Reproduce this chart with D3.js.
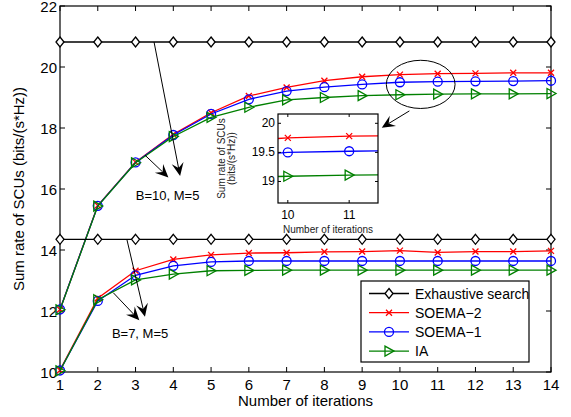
<!DOCTYPE html>
<html>
<head>
<meta charset="utf-8">
<script src="https://cdn.jsdelivr.net/npm/d3@7"></script>
<style>
  body { margin: 0; background: #fff; }
  svg { display: block; font-family: "Liberation Sans", Arial, Helvetica, sans-serif; }
</style>
</head>
<body>
<svg id="chart" width="571" height="417"></svg>
<script>
// data
const iterations = [1, 2, 3, 4, 5, 6, 7, 8, 9, 10, 11, 12, 13, 14];

// B=10, M=5
const exhaustive10 = [20.82, 20.82, 20.82, 20.82, 20.82, 20.82, 20.82, 20.82, 20.82, 20.82, 20.82, 20.82, 20.82, 20.82];
const soema2_10 = [12.05, 15.46, 16.88, 17.79, 18.50, 19.05, 19.33, 19.55, 19.68, 19.75, 19.78, 19.79, 19.81, 19.81];
const soema1_10 = [12.05, 15.45, 16.87, 17.77, 18.46, 18.94, 19.21, 19.34, 19.43, 19.50, 19.52, 19.53, 19.54, 19.55];
const ia_10 = [12.04, 15.44, 16.86, 17.72, 18.35, 18.68, 18.92, 19.00, 19.06, 19.09, 19.11, 19.12, 19.12, 19.13];

// B=7, M=5
const exhaustive7 = [14.35, 14.35, 14.35, 14.35, 14.35, 14.35, 14.35, 14.35, 14.35, 14.35, 14.35, 14.35, 14.35, 14.35];
const soema2_7 = [10.06, 12.42, 13.32, 13.69, 13.84, 13.90, 13.91, 13.94, 13.95, 13.98, 13.92, 13.95, 13.95, 13.97];
const soema1_7 = [10.05, 12.33, 13.17, 13.48, 13.61, 13.64, 13.64, 13.64, 13.64, 13.64, 13.64, 13.64, 13.64, 13.64];
const ia_7 = [10.04, 12.37, 13.02, 13.21, 13.32, 13.33, 13.34, 13.34, 13.34, 13.34, 13.34, 13.34, 13.34, 13.34];

const xTicks = iterations;
const yTicks = [10, 12, 14, 16, 18, 20, 22];
const insetXTicks = [10, 11];
const insetYTicks = [19, 19.5, 20];

const seriesStyle = [
    { name: 'Exhaustive search', color: '#000000', marker: 'diamond', b10: exhaustive10, b7: exhaustive7 },
    { name: 'SOEMA\u22122', color: '#ff0000', marker: 'x', b10: soema2_10, b7: soema2_7 },
    { name: 'SOEMA\u22121', color: '#0000ff', marker: 'circle', b10: soema1_10, b7: soema1_7 },
    { name: 'IA', color: '#008000', marker: 'triangle', b10: ia_10, b7: ia_7 }
];

const svg = d3.select('#chart');

const plot = { left: 60, right: 551, top: 6, bottom: 372 };
const x = d3.scaleLinear().domain([1, 14]).range([plot.left, plot.right]);
const y = d3.scaleLinear().domain([10, 22]).range([plot.bottom, plot.top]);

// draws one marker shape centred on (cx, cy)
function drawMarker(g, type, cx, cy, color, s = 1) {
    if (type === 'diamond') {
        g.append('path')
            .attr('d', `M${cx},${cy - 5 * s}L${cx + 4 * s},${cy}L${cx},${cy + 5 * s}L${cx - 4 * s},${cy}Z`)
            .attr('fill', '#fff').attr('stroke', color).attr('stroke-width', 1.3);
    } else if (type === 'x') {
        const r = 3 * s;
        g.append('path')
            .attr('d', `M${cx - r},${cy - r}L${cx + r},${cy + r}M${cx - r},${cy + r}L${cx + r},${cy - r}`)
            .attr('stroke', color).attr('stroke-width', 1.3);
    } else if (type === 'circle') {
        g.append('circle')
            .attr('cx', cx).attr('cy', cy).attr('r', 4.5 * s)
            .attr('fill', 'none').attr('stroke', color).attr('stroke-width', 1.3);
    } else if (type === 'triangle') {
        g.append('path')
            .attr('d', `M${cx - 4 * s},${cy - 5 * s}L${cx + 5 * s},${cy}L${cx - 4 * s},${cy + 5 * s}Z`)
            .attr('fill', 'none').attr('stroke', color).attr('stroke-width', 1.3);
    }
}

function drawSeries(g, xs, ys, values, style, width) {
    const line = d3.line().x((d, i) => xs(iterations[i])).y(d => ys(d));
    g.append('path')
        .datum(values)
        .attr('fill', 'none')
        .attr('stroke', style.color)
        .attr('stroke-width', width)
        .attr('d', line);
    values.forEach((v, i) => drawMarker(g, style.marker, xs(iterations[i]), ys(v), style.color));
}

// arrow with a notched, filled head (matlab style)
function drawArrow(g, x1, y1, x2, y2) {
    const ang = Math.atan2(y2 - y1, x2 - x1);
    const L = 13, W = 6, N = 8;
    const cos = Math.cos(ang), sin = Math.sin(ang);
    const bx = x2 - L * cos, by = y2 - L * sin;
    const nx = x2 - N * cos, ny = y2 - N * sin;
    g.append('line')
        .attr('x1', x1).attr('y1', y1).attr('x2', nx).attr('y2', ny)
        .attr('stroke', '#000').attr('stroke-width', 1);
    g.append('path')
        .attr('d', `M${x2},${y2}L${bx - W * sin},${by + W * cos}L${nx},${ny}L${bx + W * sin},${by - W * cos}Z`)
        .attr('fill', '#000');
}

// main axes: ticks inward on all four sides
const axes = svg.append('g');
xTicks.forEach(t => {
    axes.append('line').attr('x1', x(t)).attr('x2', x(t)).attr('y1', plot.bottom).attr('y2', plot.bottom - 5).attr('stroke', '#000');
    axes.append('line').attr('x1', x(t)).attr('x2', x(t)).attr('y1', plot.top).attr('y2', plot.top + 5).attr('stroke', '#000');
    axes.append('text').attr('x', x(t)).attr('y', plot.bottom + 18)
        .attr('text-anchor', 'middle').attr('font-size', 15).text(t);
});
yTicks.forEach(t => {
    axes.append('line').attr('x1', plot.left).attr('x2', plot.left + 5).attr('y1', y(t)).attr('y2', y(t)).attr('stroke', '#000');
    axes.append('line').attr('x1', plot.right).attr('x2', plot.right - 5).attr('y1', y(t)).attr('y2', y(t)).attr('stroke', '#000');
    axes.append('text').attr('x', plot.left - 3).attr('y', y(t) + 5.5)
        .attr('text-anchor', 'end').attr('font-size', 15).text(t);
});
axes.append('rect')
    .attr('x', plot.left).attr('y', plot.top)
    .attr('width', plot.right - plot.left).attr('height', plot.bottom - plot.top)
    .attr('fill', 'none').attr('stroke', '#000').attr('stroke-width', 1.2);

axes.append('text')
    .attr('x', (plot.left + plot.right) / 2).attr('y', 406)
    .attr('text-anchor', 'middle').attr('font-size', 15)
    .text('Number of iterations');
axes.append('text')
    .attr('transform', `translate(24,${(plot.top + plot.bottom) / 2}) rotate(-90)`)
    .attr('text-anchor', 'middle').attr('font-size', 15)
    .text('Sum rate of SCUs (bits/(s*Hz))');

// curves
const curves = svg.append('g');
seriesStyle.forEach(s => drawSeries(curves, x, y, s.b10, s, 1.3));
seriesStyle.forEach(s => drawSeries(curves, x, y, s.b7, s, 1.3));

// annotations
const notes = svg.append('g');
drawArrow(notes, x(3.49), y(20.82), x(4.18), y(16.43));
drawArrow(notes, x(3.25), y(17.11), x(3.87), y(16.38));
notes.append('text').attr('x', x(3.85)).attr('y', y(15.64))
    .attr('text-anchor', 'middle').attr('font-size', 13).text('B=10, M=5');
drawArrow(notes, x(2.77), y(14.35), x(3.25), y(11.81));
drawArrow(notes, x(2.41), y(12.6), x(3.10), y(11.70));
notes.append('text').attr('x', x(3.12)).attr('y', y(11.11))
    .attr('text-anchor', 'middle').attr('font-size', 13).text('B=7, M=5');
notes.append('ellipse')
    .attr('cx', x(10.55)).attr('cy', y(19.43))
    .attr('rx', x(10.55 + 0.91) - x(10.55)).attr('ry', y(19.43) - y(19.43 + 0.79))
    .attr('fill', 'none').attr('stroke', '#000').attr('stroke-width', 1);
drawArrow(notes, x(10.25), y(18.56), x(9.52), y(18.01));

// inset zoom of iterations 10-11
const ins = { left: 278, right: 378, top: 114, bottom: 203 };
const ix = d3.scaleLinear().domain([9.84, 11.47]).range([ins.left, ins.right]);
const iy = d3.scaleLinear().domain([18.63, 20.16]).range([ins.bottom, ins.top]);
const inset = svg.append('g');
inset.append('rect')
    .attr('x', ins.left).attr('y', ins.top)
    .attr('width', ins.right - ins.left).attr('height', ins.bottom - ins.top)
    .attr('fill', '#fff');
svg.append('clipPath').attr('id', 'insetClip').append('rect')
    .attr('x', ins.left).attr('y', ins.top)
    .attr('width', ins.right - ins.left).attr('height', ins.bottom - ins.top);
const insetCurves = inset.append('g').attr('clip-path', 'url(#insetClip)');
seriesStyle.slice(1).forEach(s => drawSeries(insetCurves, ix, iy, s.b10, s, 1.3));

insetXTicks.forEach(t => {
    inset.append('line').attr('x1', ix(t)).attr('x2', ix(t)).attr('y1', ins.bottom).attr('y2', ins.bottom - 3).attr('stroke', '#000');
    inset.append('line').attr('x1', ix(t)).attr('x2', ix(t)).attr('y1', ins.top).attr('y2', ins.top + 3).attr('stroke', '#000');
    inset.append('text').attr('x', ix(t)).attr('y', ins.bottom + 16)
        .attr('text-anchor', 'middle').attr('font-size', 12).text(t);
});
insetYTicks.forEach(t => {
    inset.append('line').attr('x1', ins.left).attr('x2', ins.left + 3).attr('y1', iy(t)).attr('y2', iy(t)).attr('stroke', '#000');
    inset.append('line').attr('x1', ins.right).attr('x2', ins.right - 3).attr('y1', iy(t)).attr('y2', iy(t)).attr('stroke', '#000');
    inset.append('text').attr('x', ins.left - 3).attr('y', iy(t) + 4)
        .attr('text-anchor', 'end').attr('font-size', 12).text(t);
});
inset.append('rect')
    .attr('x', ins.left).attr('y', ins.top)
    .attr('width', ins.right - ins.left).attr('height', ins.bottom - ins.top)
    .attr('fill', 'none').attr('stroke', '#000').attr('stroke-width', 1.2);
inset.append('text')
    .attr('x', (ins.left + ins.right) / 2).attr('y', 233)
    .attr('text-anchor', 'middle').attr('font-size', 10).attr('fill', '#222')
    .text('Number of iterations');
inset.append('text')
    .attr('transform', `translate(225,${(ins.top + ins.bottom) / 2}) rotate(-90)`)
    .attr('text-anchor', 'middle').attr('font-size', 10).attr('fill', '#222')
    .text('Sum rate of SCUs');
inset.append('text')
    .attr('transform', `translate(235,${(ins.top + ins.bottom) / 2}) rotate(-90)`)
    .attr('text-anchor', 'middle').attr('font-size', 10).attr('fill', '#222')
    .text('(bits/(s*Hz))');

// legend
const leg = { left: 361, top: 281, width: 168, height: 81 };
const legend = svg.append('g');
legend.append('rect')
    .attr('x', leg.left).attr('y', leg.top)
    .attr('width', leg.width).attr('height', leg.height)
    .attr('fill', '#fff').attr('stroke', '#000').attr('stroke-width', 1.2);
seriesStyle.forEach((s, i) => {
    const ly = leg.top + 12.5 + i * 19.2;
    legend.append('line')
        .attr('x1', leg.left + 8).attr('x2', leg.left + 48)
        .attr('y1', ly).attr('y2', ly)
        .attr('stroke', s.color).attr('stroke-width', 1.3);
    drawMarker(legend, s.marker, leg.left + 28, ly, s.color);
    legend.append('text')
        .attr('x', leg.left + 54).attr('y', ly + 5)
        .attr('font-size', 14).text(s.name);
});
</script>
</body>
</html>
